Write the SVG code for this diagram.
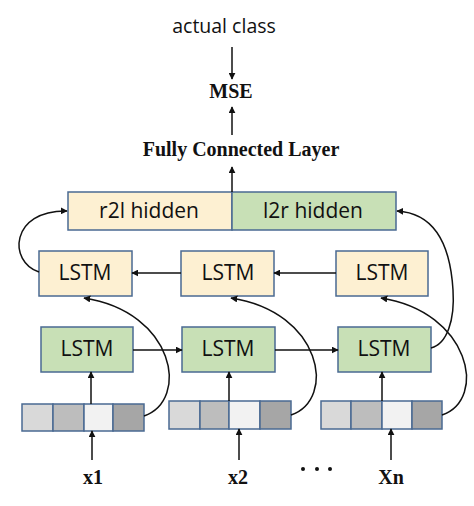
<svg xmlns="http://www.w3.org/2000/svg" width="474" height="506" viewBox="0 0 474 506">
<style>
.box{stroke:#4A6A92;stroke-width:1.5}
.y{fill:#FDF0D2}
.g{fill:#C8E0B6}
.c1{fill:#D9D9D9}.c2{fill:#BDBDBD}.c3{fill:#F2F2F2}.c4{fill:#A6A6A6}
.s{font-family:"Open Sans","Liberation Sans",sans-serif;font-size:21px;fill:#111;text-anchor:middle}
.t{font-family:"Liberation Serif","Times New Roman",serif;font-weight:bold;font-size:20px;fill:#111;text-anchor:middle}
.e{fill:none;stroke:#111;stroke-width:1.5}
</style>
<defs>
<marker id="ah" viewBox="0 0 10 10" refX="9" refY="5" markerWidth="7" markerHeight="7" markerUnits="userSpaceOnUse" orient="auto">
<path d="M0,0 L10,5 L0,10 z" fill="#111"/>
</marker>
</defs>
<rect width="474" height="506" fill="#fff"/>
<g id="actual"><text class="s" x="224" y="33" style="font-size:19.5px">actual class</text></g>
<g id="mse"><text class="t" x="231" y="98">MSE</text></g>
<g id="fcl"><text class="t" x="241" y="156">Fully Connected Layer</text></g>
<g id="hidden">
<rect class="box y" x="68" y="192" width="164" height="38"/>
<rect class="box g" x="232" y="192" width="164" height="38"/>
<text class="s" x="149" y="218">r2l hidden</text>
<text class="s" x="313" y="218">l2r hidden</text>
</g>
<g id="lstm_r1"><rect class="box y" x="39" y="251" width="93" height="45"/><text class="s" x="85" y="280">LSTM</text></g>
<g id="lstm_r2"><rect class="box y" x="181" y="251" width="93" height="45"/><text class="s" x="228" y="280">LSTM</text></g>
<g id="lstm_r3"><rect class="box y" x="336" y="251" width="92" height="45"/><text class="s" x="382" y="280">LSTM</text></g>
<g id="lstm_l1"><rect class="box g" x="41" y="327" width="92" height="45"/><text class="s" x="87" y="356">LSTM</text></g>
<g id="lstm_l2"><rect class="box g" x="182" y="327" width="93" height="45"/><text class="s" x="228" y="356">LSTM</text></g>
<g id="lstm_l3"><rect class="box g" x="338" y="327" width="93" height="45"/><text class="s" x="384" y="356">LSTM</text></g>
<g id="vec1">
<rect class="box c1" x="22" y="404" width="31" height="27"/><rect class="box c2" x="53" y="404" width="31" height="27"/><rect class="box c3" x="84" y="404" width="29" height="27"/><rect class="box c4" x="113" y="404" width="31" height="27"/>
</g>
<g id="vec2">
<rect class="box c1" x="169" y="401" width="31" height="28"/><rect class="box c2" x="200" y="401" width="29" height="28"/><rect class="box c3" x="229" y="401" width="31" height="28"/><rect class="box c4" x="260" y="401" width="31" height="28"/>
</g>
<g id="vec3">
<rect class="box c1" x="321" y="401" width="30" height="28"/><rect class="box c2" x="351" y="401" width="31" height="28"/><rect class="box c3" x="382" y="401" width="30" height="28"/><rect class="box c4" x="412" y="401" width="30" height="28"/>
</g>
<g id="x1"><text class="t" x="93" y="484">x1</text></g>
<g id="x2"><text class="t" x="238" y="484">x2</text></g>
<g id="dots"><circle cx="303" cy="469" r="2" fill="#111"/><circle cx="317" cy="469" r="2" fill="#111"/><circle cx="330" cy="469" r="2" fill="#111"/></g>
<g id="xn"><text class="t" x="391" y="484">Xn</text></g>
<g id="connectors">
<path class="e" d="M232,47 V79" marker-end="url(#ah)"/>
<path class="e" d="M232,135 V107" marker-end="url(#ah)"/>
<path class="e" d="M232,192 V167" marker-end="url(#ah)"/>
<path class="e" d="M336,273 H274" marker-end="url(#ah)"/>
<path class="e" d="M181,273 H132" marker-end="url(#ah)"/>
<path class="e" d="M133,350 H182" marker-end="url(#ah)"/>
<path class="e" d="M275,350 H338" marker-end="url(#ah)"/>
<path class="e" d="M91,404 V372" marker-end="url(#ah)"/>
<path class="e" d="M229,401 V372" marker-end="url(#ah)"/>
<path class="e" d="M382,401 V372" marker-end="url(#ah)"/>
<path class="e" d="M92,460 V431" marker-end="url(#ah)"/>
<path class="e" d="M239,460 V429" marker-end="url(#ah)"/>
<path class="e" d="M391,460 V429" marker-end="url(#ah)"/>
<path class="e" d="M39,272 C8,262 10,210 67,211" marker-end="url(#ah)"/>
<path class="e" d="M431,348 C447,344 455,320 453,290 C450,240 432,213 397,211" marker-end="url(#ah)"/>
<path class="e" d="M144,416 C190,400 175,312 84,298" marker-end="url(#ah)"/>
<path class="e" d="M291,415 C337,399 322,312 231,298" marker-end="url(#ah)"/>
<path class="e" d="M442,415 C488,399 470,312 381,298" marker-end="url(#ah)"/>
</g>
</svg>
